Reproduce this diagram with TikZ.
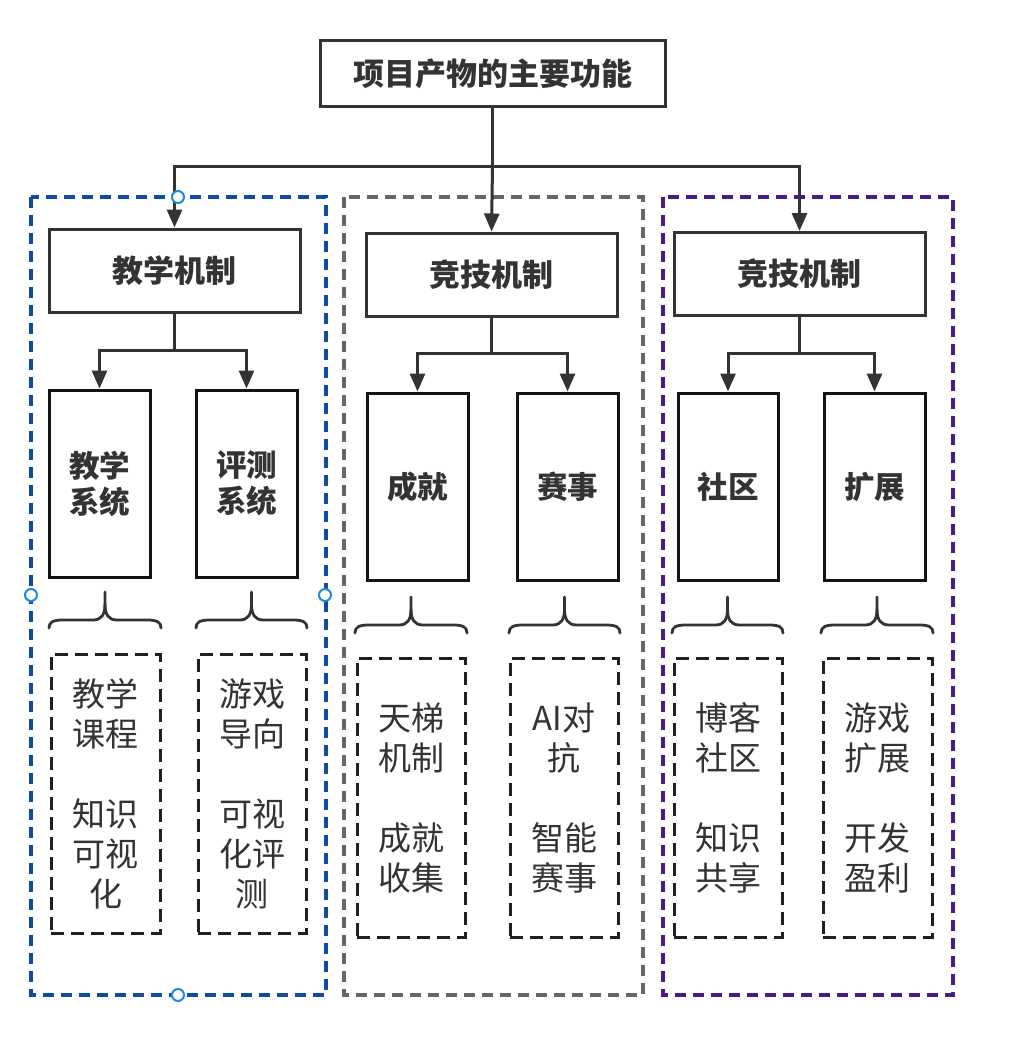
\documentclass[tikz,border=0pt]{standalone}
\usepackage{fontspec}
\newfontfamily\cjk{Noto Sans CJK SC}
\usetikzlibrary{arrows.meta}
\definecolor{ink}{HTML}{333333}
\definecolor{grpblue}{HTML}{0F4AA3}
\definecolor{grpgray}{HTML}{666666}
\definecolor{grppurple}{HTML}{4A1A8C}
\definecolor{handle}{HTML}{1E88E5}
\tikzset{
  box/.style={draw=ink, line width=3pt, fill=white, inner sep=0pt, align=center,
    text=ink, font=\cjk\bfseries\fontsize{31}{36}\selectfont},
  topbox/.style={box, minimum width=345pt, minimum height=66pt,
    font=\cjk\bfseries\fontsize{31}{36}\selectfont},
  midbox/.style={box, minimum width=251pt, minimum height=83pt},
  leafbox/.style={box, draw=black!92, minimum width=101pt, minimum height=187pt,
    font=\cjk\bfseries\fontsize{30.5}{36}\selectfont},
  notebox/.style={draw=black!88, line width=3pt, dash pattern=on 13pt off 7pt,
    inner sep=0pt, align=center, text=ink, minimum width=108pt, minimum height=279pt,
    font=\cjk\fontsize{33}{40}\selectfont},
  group/.style={line width=3.2pt, dash pattern=on 11pt off 7pt},
  arr/.style={draw=ink, line width=3pt, -{Triangle[length=18pt,width=15pt]}},
  link/.style={draw=ink, line width=3pt},
  bracestyle/.style={draw=ink, line width=2.8pt, line cap=round, line join=round},
  handlept/.style={circle, draw=handle, fill=white, line width=2pt,
    minimum size=12pt, inner sep=0pt}
}
% curly brace opening downward: ends at y=#3, tip at y=#4, from x=#1 to x=#2
\newcommand{\upbrace}[4]{%
  \draw[bracestyle] (#1,#3) .. controls (#1,#3-6) and (#1+4,#3-8) .. (#1+14,#3-8)
    -- ({(#1+#2)/2-12},#3-8) .. controls ({(#1+#2)/2-3},#3-8) and ({(#1+#2)/2},#3-14) ..
    ({(#1+#2)/2},#3-24) -- ({(#1+#2)/2},#4);
  \draw[bracestyle] (#2,#3) .. controls (#2,#3-6) and (#2-4,#3-8) .. (#2-14,#3-8)
    -- ({(#1+#2)/2+12},#3-8) .. controls ({(#1+#2)/2+3},#3-8) and ({(#1+#2)/2},#3-14) ..
    ({(#1+#2)/2},#3-24);
}
\begin{document}
\begin{tikzpicture}[x=1pt,y=-1pt]
\useasboundingbox[fill=white] (0,0) rectangle (1014,1043);

% group frames
\draw[group, draw=grpblue] (31,197) rectangle (326,995);
\draw[group, draw=grpgray] (344,197) rectangle (643,995);
\draw[group, draw=grppurple] (663,197) rectangle (953,995);

% root
\node[topbox] (root) at (492.5,74) {项目产物的主要功能};

% second level
\node[midbox] (teach) at (174.5,270.5) {教学机制};
\node[midbox] (comp) at (491.5,274.5) {竞技机制};
\node[midbox] (ext) at (799.5,274) {竞技机制};

\coordinate (j0) at (492.5,167);
\draw[link] (root.south) -- (j0);
\draw[arr] (j0) -- (comp.north);
\draw[arr] (j0) -| (teach.north);
\draw[arr] (j0) -| (ext.north);

% third level
\node[leafbox] (sys1) at (99.5,483.5) {教学\\系统};
\node[leafbox] (sys2) at (246.5,483.5) {评测\\系统};
\node[leafbox] (ach) at (417.5,486.5) {成就};
\node[leafbox] (evt) at (567.5,486.5) {赛事};
\node[leafbox, minimum width=100pt] (com) at (728,486.5) {社区};
\node[leafbox] (exp) at (874.5,486.5) {扩展};

\coordinate (j1) at (174.5,350);
\coordinate (j2) at (491.5,353);
\coordinate (j3) at (799.5,353);
\draw[link] (teach.south) -- (j1);
\draw[arr] (j1) -| (sys1.north);
\draw[arr] (j1) -| (sys2.north);
\draw[link] (comp.south) -- (j2);
\draw[arr] (j2) -| (ach.north);
\draw[arr] (j2) -| (evt.north);
\draw[link] (ext.south) -- (j3);
\draw[arr] (j3) -| (com.north);
\draw[arr] (j3) -| (exp.north);

% braces
\upbrace{49}{161}{628}{592}
\upbrace{196}{307}{628}{592}
\upbrace{355}{467}{633}{597}
\upbrace{509}{620}{633}{597}
\upbrace{672}{783}{633}{597}
\upbrace{821}{933}{633}{597}

% notes
\node[notebox, minimum width=109pt] (n1) at (105.5,793.5) {教学\\课程\\[40pt]知识\\可视\\化};
\node[notebox] (n2) at (252,793.5) {游戏\\导向\\[40pt]可视\\化评\\测};
\node[notebox] (n3) at (411,797.5) {天梯\\机制\\[40pt]成就\\收集};
\node[notebox] (n4) at (564,797.5) {AI对\\抗\\[40pt]智能\\赛事};
\node[notebox] (n5) at (728,797.5) {博客\\社区\\[40pt]知识\\共享};
\node[notebox, minimum width=109pt] (n6) at (877.5,797.5) {游戏\\扩展\\[40pt]开发\\盈利};

% selection handles on the first frame
\node[handlept] (h1) at (178,197) {};
\node[handlept] (h2) at (31,595) {};
\node[handlept] (h3) at (325,595) {};
\node[handlept] (h4) at (178,995) {};
\end{tikzpicture}
\end{document}
